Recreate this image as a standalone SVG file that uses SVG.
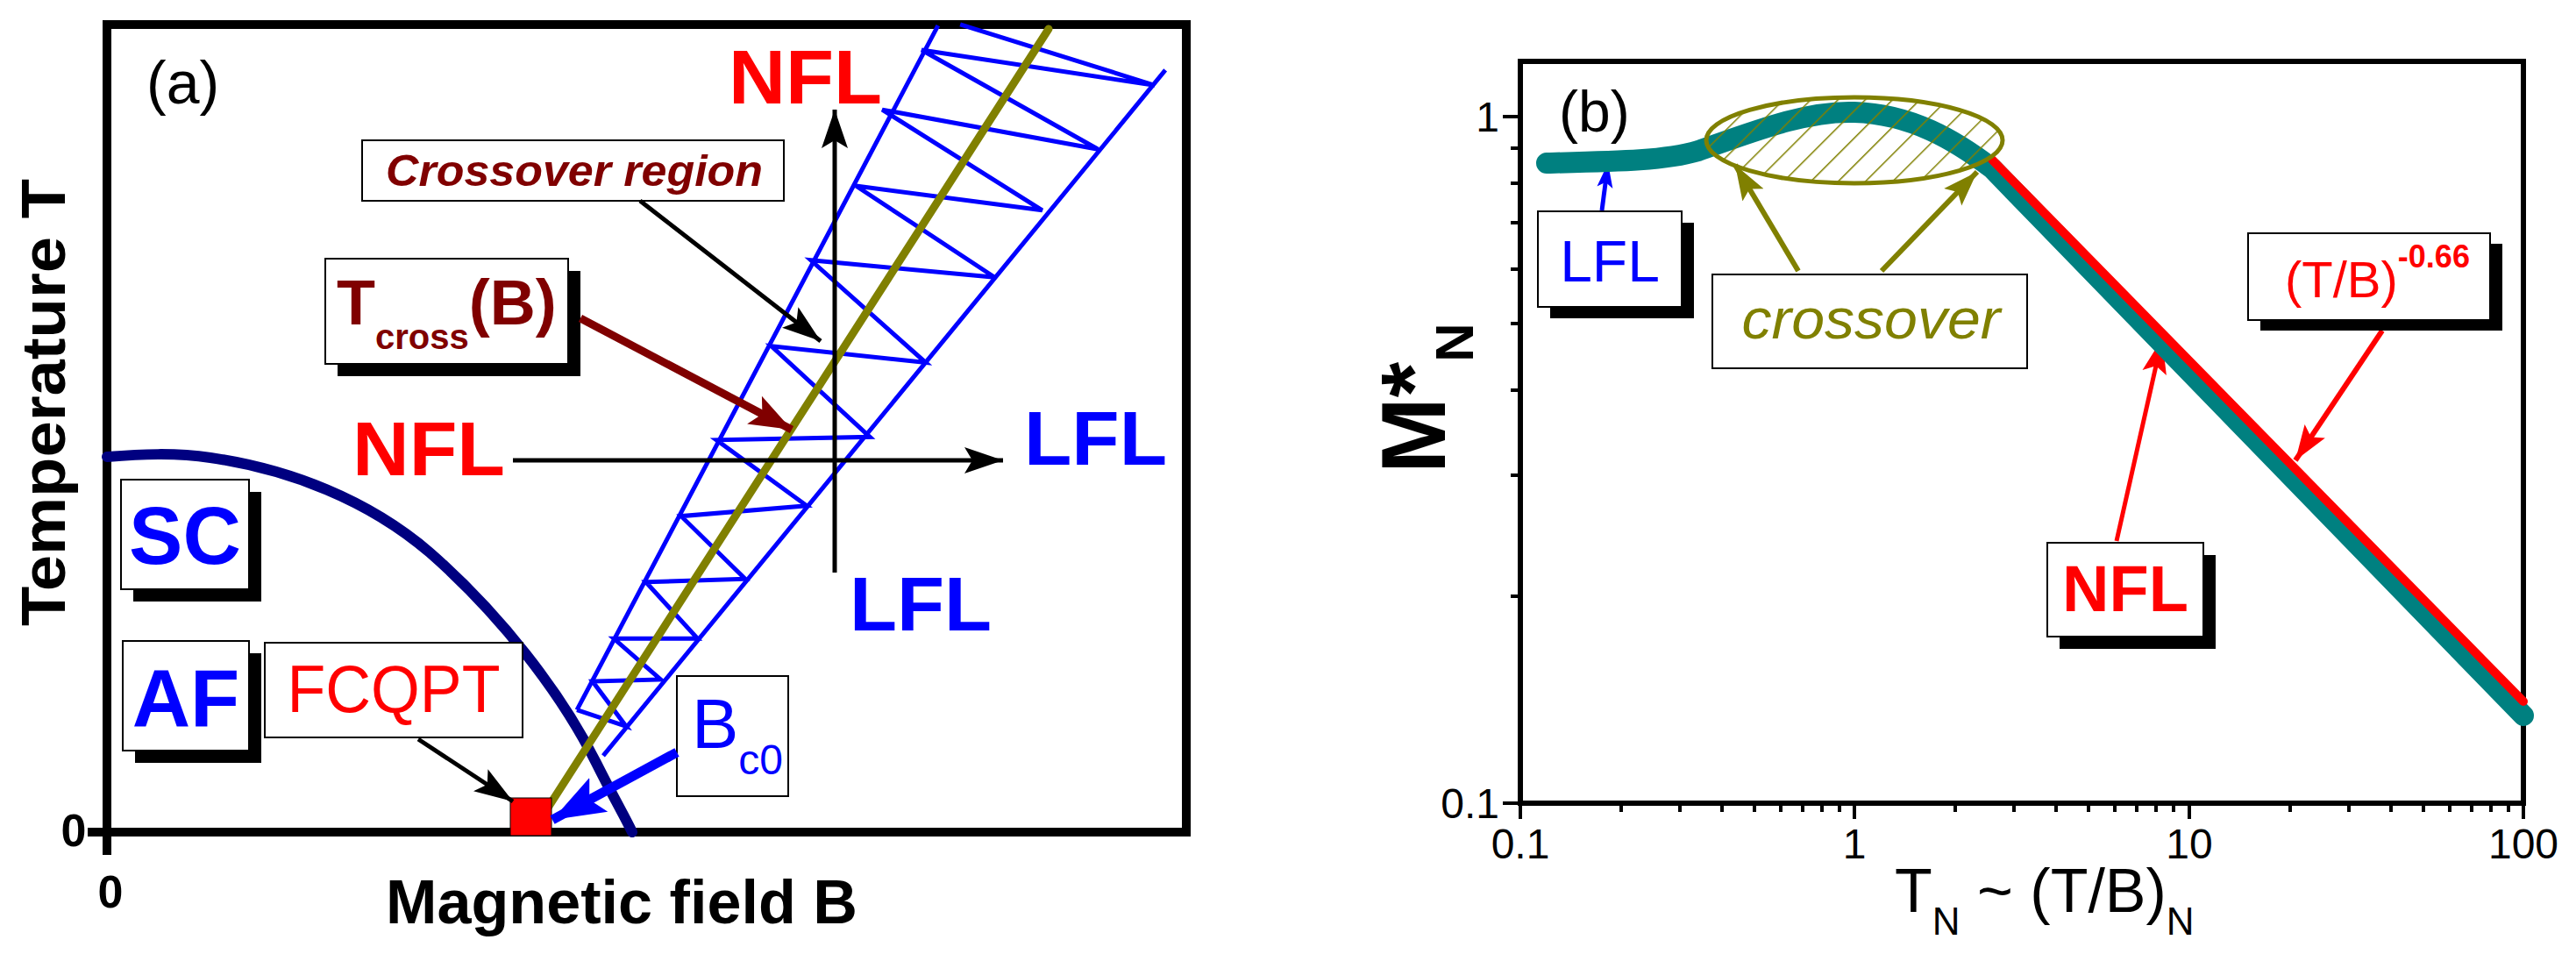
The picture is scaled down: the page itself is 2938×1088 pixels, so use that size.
<svg xmlns="http://www.w3.org/2000/svg" width="2938" height="1088" viewBox="0 0 2938 1088">
<style>
text{font-family:"Liberation Sans",Arial,sans-serif}
.b{font-weight:bold}
.box{fill:#fff;stroke:#000;stroke-width:2}
.sh{fill:#000}
.ns{vector-effect:non-scaling-stroke;fill:none}
.tk{stroke:#000;stroke-width:4}
.tl{font-size:48px}
</style>
<defs>
<marker id="ak" markerUnits="userSpaceOnUse" markerWidth="48" markerHeight="36" refX="44" refY="18" orient="auto"><path d="M0,3 L44,18 L0,33 L9,18 Z" fill="#000"/></marker>
<marker id="ar" markerUnits="userSpaceOnUse" markerWidth="52" markerHeight="40" refX="48" refY="20" orient="auto"><path d="M0,2 L48,20 L0,38 L10,20 Z" fill="#800000"/></marker>
<marker id="ab" markerUnits="userSpaceOnUse" markerWidth="64" markerHeight="48" refX="60" refY="24" orient="auto"><path d="M0,2 L60,24 L0,46 L12,24 Z" fill="#00f"/></marker>
<marker id="ab2" markerUnits="userSpaceOnUse" markerWidth="30" markerHeight="24" refX="28" refY="12" orient="auto"><path d="M0,3 L28,12 L0,21 L6,12 Z" fill="#00f"/></marker>
<marker id="ao" markerUnits="userSpaceOnUse" markerWidth="44" markerHeight="34" refX="40" refY="17" orient="auto"><path d="M0,3 L40,17 L0,31 L8,17 Z" fill="#808000"/></marker>
<marker id="arr" markerUnits="userSpaceOnUse" markerWidth="44" markerHeight="34" refX="40" refY="17" orient="auto"><path d="M0,3 L40,17 L0,31 L8,17 Z" fill="#f00"/></marker>
<pattern id="hatch" patternUnits="userSpaceOnUse" width="22" height="22" patternTransform="rotate(45)"><line x1="0" y1="0" x2="0" y2="22" stroke="#808000" stroke-width="3"/></pattern>
</defs>

<!-- Panel (a) -->
<g id="panel-a-frame">
<rect x="122" y="28" width="1231" height="921" fill="none" stroke="#000" stroke-width="10"/>
<line x1="100" y1="949" x2="140" y2="949" stroke="#000" stroke-width="10"/>
<line x1="122" y1="949" x2="122" y2="975" stroke="#000" stroke-width="10"/>
<text x="167" y="118" font-size="68">(a)</text>
<text class="b" x="84" y="965" font-size="52" text-anchor="middle">0</text>
<text class="b" x="126" y="1035" font-size="52" text-anchor="middle">0</text>
<text class="b" x="440" y="1053" font-size="70" textLength="538" lengthAdjust="spacingAndGlyphs">Magnetic field B</text>
<text class="b" transform="translate(74,459) rotate(-90)" font-size="70" text-anchor="middle" textLength="510" lengthAdjust="spacingAndGlyphs">Temperature T</text>
</g>

<g id="sc-dome"><path d="M122,521 C160,518 200,516 240,522 C330,535 420,570 490,630 C570,700 640,790 680,870 C700,910 712,930 721,949" fill="none" stroke="#000080" stroke-width="12" stroke-linecap="round"/></g>

<g id="crossover-band" transform="scale(0.936,0.695)" stroke="#00f" stroke-width="5">
<path class="ns" d="M703,1165 L1143,42 M735,1240 L1420,115"/>
<path class="ns" d="M1170,40 L1407,140 L1123,82 L1338,245 L1075,180 L1270,345 L1043,305 L1212,455 L988,427 L1128,595 L940,568 L1060,717 L873,722 L983,830 L830,847 L908,950 L787,955 L850,1048 L748,1048 L805,1115 L722,1118 L763,1192 L703,1165"/>
</g>

<g id="tcross-line"><line x1="625" y1="921" x2="1196" y2="33" stroke="#808000" stroke-width="9" stroke-linecap="round"/></g>

<g id="axes-arrows">
<line x1="952" y1="653" x2="952" y2="125" stroke="#000" stroke-width="5" marker-end="url(#ak)"/>
<line x1="585" y1="525" x2="1144" y2="525" stroke="#000" stroke-width="5" marker-end="url(#ak)"/>
</g>

<g id="label-nfl-top"><text class="b" x="831" y="118" font-size="88" fill="#f00" textLength="175" lengthAdjust="spacingAndGlyphs">NFL</text></g>
<g id="label-nfl-mid"><text class="b" x="402" y="542" font-size="88" fill="#f00" textLength="174" lengthAdjust="spacingAndGlyphs">NFL</text></g>
<g id="label-lfl-right"><text class="b" x="1168" y="530" font-size="88" fill="#00f" textLength="163" lengthAdjust="spacingAndGlyphs">LFL</text></g>
<g id="label-lfl-bottom"><text class="b" x="969" y="719" font-size="88" fill="#00f" textLength="162" lengthAdjust="spacingAndGlyphs">LFL</text></g>

<g id="node-crossover-region">
<rect class="box" x="413" y="160" width="481" height="69"/>
<text class="b" x="655" y="212" font-size="50" font-style="italic" fill="#800000" text-anchor="middle" textLength="430" lengthAdjust="spacingAndGlyphs">Crossover region</text>
</g>

<g id="node-tcross">
<rect class="sh" x="385" y="309" width="277" height="120"/>
<rect class="box" x="371" y="295" width="277" height="120"/>
<text class="b" x="384" y="370" font-size="72" fill="#800000">T<tspan font-size="40" dy="28">cross</tspan><tspan font-size="72" dy="-28">(B)</tspan></text>
</g>

<g id="node-sc">
<rect class="sh" x="152" y="561" width="146" height="125"/>
<rect class="box" x="138" y="547" width="146" height="125"/>
<text class="b" x="211" y="643" font-size="92" fill="#00f" text-anchor="middle">SC</text>
</g>

<g id="node-af">
<rect class="sh" x="154" y="745" width="144" height="125"/>
<rect class="box" x="140" y="731" width="144" height="125"/>
<text class="b" x="212" y="828" font-size="92" fill="#00f" text-anchor="middle">AF</text>
</g>

<g id="node-fcqpt">
<rect class="box" x="302" y="733" width="294" height="108"/>
<text x="449" y="812" font-size="76" fill="#f00" text-anchor="middle" textLength="243" lengthAdjust="spacingAndGlyphs">FCQPT</text>
</g>

<g id="node-qcp"><rect x="582" y="910" width="47" height="43" fill="#f00" stroke="#000" stroke-width="1"/></g>

<g id="node-bc0">
<rect class="box" x="772" y="771" width="127" height="137"/>
<text x="789" y="853" font-size="80" fill="#00f">B<tspan font-size="48" dy="30">c0</tspan></text>
</g>

<g id="connectors">
<line x1="730" y1="229" x2="936" y2="389" stroke="#000" stroke-width="5" marker-end="url(#ak)"/>
<line x1="662" y1="363" x2="903" y2="490" stroke="#800000" stroke-width="9" marker-end="url(#ar)"/>
<line x1="477" y1="843" x2="585" y2="914" stroke="#000" stroke-width="5" marker-end="url(#ak)"/>
<line x1="772" y1="858" x2="630" y2="935" stroke="#00f" stroke-width="11" marker-end="url(#ab)"/>
<line x1="2051" y1="309" x2="1979" y2="188" stroke="#808000" stroke-width="6" marker-end="url(#ao)"/>
<line x1="2146" y1="309" x2="2255" y2="196" stroke="#808000" stroke-width="6" marker-end="url(#ao)"/>
<line x1="1827" y1="240" x2="1834" y2="186" stroke="#00f" stroke-width="5" marker-end="url(#ab2)"/>
<line x1="2717" y1="377" x2="2618" y2="525" stroke="#f00" stroke-width="6" marker-end="url(#arr)"/>
<line x1="2414" y1="617" x2="2466" y2="386" stroke="#f00" stroke-width="5" marker-end="url(#arr)"/>
</g>

<!-- Panel (b) -->
<g id="panel-b-frame">
<rect x="1734" y="70" width="1144" height="846" fill="none" stroke="#000" stroke-width="6"/>
<g class="tk">
<line x1="1714" y1="916" x2="1734" y2="916"/><line x1="1714" y1="133" x2="1734" y2="133"/>
<line x1="1723" y1="680" x2="1734" y2="680"/><line x1="1723" y1="542" x2="1734" y2="542"/>
<line x1="1723" y1="445" x2="1734" y2="445"/><line x1="1723" y1="369" x2="1734" y2="369"/>
<line x1="1723" y1="307" x2="1734" y2="307"/><line x1="1723" y1="254" x2="1734" y2="254"/>
<line x1="1723" y1="209" x2="1734" y2="209"/><line x1="1723" y1="169" x2="1734" y2="169"/>
<line x1="1734" y1="916" x2="1734" y2="934"/><line x1="2115" y1="916" x2="2115" y2="934"/>
<line x1="2497" y1="916" x2="2497" y2="934"/><line x1="2878" y1="916" x2="2878" y2="934"/>
<line x1="1849" y1="916" x2="1849" y2="926"/><line x1="1916" y1="916" x2="1916" y2="926"/><line x1="1964" y1="916" x2="1964" y2="926"/><line x1="2001" y1="916" x2="2001" y2="926"/><line x1="2031" y1="916" x2="2031" y2="926"/><line x1="2056" y1="916" x2="2056" y2="926"/><line x1="2078" y1="916" x2="2078" y2="926"/><line x1="2098" y1="916" x2="2098" y2="926"/>
<line x1="2230" y1="916" x2="2230" y2="926"/><line x1="2297" y1="916" x2="2297" y2="926"/><line x1="2345" y1="916" x2="2345" y2="926"/><line x1="2382" y1="916" x2="2382" y2="926"/><line x1="2412" y1="916" x2="2412" y2="926"/><line x1="2437" y1="916" x2="2437" y2="926"/><line x1="2459" y1="916" x2="2459" y2="926"/><line x1="2479" y1="916" x2="2479" y2="926"/>
<line x1="2612" y1="916" x2="2612" y2="926"/><line x1="2679" y1="916" x2="2679" y2="926"/><line x1="2727" y1="916" x2="2727" y2="926"/><line x1="2764" y1="916" x2="2764" y2="926"/><line x1="2794" y1="916" x2="2794" y2="926"/><line x1="2819" y1="916" x2="2819" y2="926"/><line x1="2841" y1="916" x2="2841" y2="926"/><line x1="2861" y1="916" x2="2861" y2="926"/>
</g>
<text class="tl" x="1710" y="150" text-anchor="end">1</text>
<text class="tl" x="1710" y="933" text-anchor="end">0.1</text>
<text class="tl" x="1734" y="979" text-anchor="middle">0.1</text>
<text class="tl" x="2115" y="979" text-anchor="middle">1</text>
<text class="tl" x="2497" y="979" text-anchor="middle">10</text>
<text class="tl" x="2878" y="979" text-anchor="middle">100</text>
<text x="1778" y="150" font-size="66">(b)</text>
<text x="2161" y="1040" font-size="70">T<tspan font-size="44" dy="26">N</tspan><tspan dy="-26"> ~ (T/B)</tspan><tspan font-size="44" dy="26">N</tspan></text>
<text class="b" transform="translate(1648,540) rotate(-90)" font-size="104">M*<tspan font-size="62" dy="32">N</tspan></text>
</g>

<g id="curve">
<path d="M1764,186 C1850,184 1900,183 1937,172 C2000,150 2060,126 2115,128 C2180,130 2230,160 2272,192 L2878,816" fill="none" stroke="#008080" stroke-width="24" stroke-linecap="round"/>
<path d="M2272,182 L2878,800" fill="none" stroke="#f00" stroke-width="10" stroke-linecap="round"/>
</g>

<g id="crossover-ellipse"><ellipse cx="2115" cy="160" rx="169" ry="49" fill="url(#hatch)" stroke="#808000" stroke-width="5"/></g>

<g id="node-lfl-b">
<rect class="sh" x="1768" y="254" width="164" height="109"/>
<rect class="box" x="1754" y="241" width="164" height="109"/>
<text x="1836" y="321" font-size="66" fill="#00f" text-anchor="middle">LFL</text>
</g>

<g id="node-crossover">
<rect class="box" x="1953" y="313" width="359" height="107"/>
<text x="2134" y="386" font-size="64" font-style="italic" fill="#808000" text-anchor="middle" textLength="295" lengthAdjust="spacingAndGlyphs">crossover</text>
</g>

<g id="node-powerlaw">
<rect class="sh" x="2578" y="278" width="276" height="99"/>
<rect class="box" x="2564" y="266" width="276" height="99"/>
<text x="2606" y="339" font-size="58" fill="#f00">(T/B)<tspan font-size="36" dy="-34" font-weight="bold">-0.66</tspan></text>
</g>

<g id="node-nfl-b">
<rect class="sh" x="2349" y="633" width="178" height="107"/>
<rect class="box" x="2335" y="619" width="178" height="107"/>
<text class="b" x="2424" y="697" font-size="74" fill="#f00" text-anchor="middle">NFL</text>
</g>
</svg>
